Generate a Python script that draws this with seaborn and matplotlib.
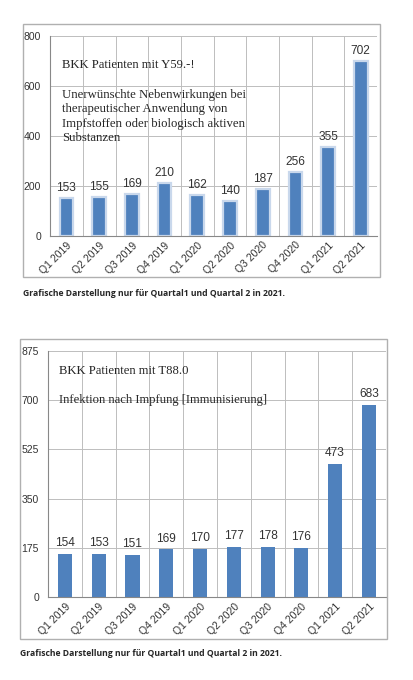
import matplotlib
matplotlib.use("Agg")
import matplotlib.pyplot as plt
import seaborn as sns
import pandas as pd
from matplotlib.patches import Rectangle
from matplotlib.ticker import FixedLocator

sns.set_style("white")
plt.rcParams['font.family'] = ['Liberation Sans', 'DejaVu Sans']

# data
quarters = ["Q1 2019", "Q2 2019", "Q3 2019", "Q4 2019", "Q1 2020",
            "Q2 2020", "Q3 2020", "Q4 2020", "Q1 2021", "Q2 2021"]
y59_values = [153, 155, 169, 210, 162, 140, 187, 256, 355, 702]
t88_values = [154, 153, 151, 169, 170, 177, 178, 176, 473, 683]
y59_ticks = [0, 200, 400, 600, 800]
t88_ticks = [0, 175, 350, 525, 700, 875]
caption = "Grafische Darstellung nur für Quartal1 und Quartal 2 in 2021."

bar_color = "#4f81bd"
grid_color = "#bdbdbd"

fig = plt.figure(figsize=(4.14, 6.8), dpi=100)
fig.patch.set_facecolor("white")


def draw_chart(ax, values, ticks, glow):
    df = pd.DataFrame({"quarter": quarters, "value": values})
    sns.barplot(data=df, x="quarter", y="value", ax=ax, color=bar_color,
                width=0.42, saturation=1,
                edgecolor="#c9d8ec" if glow else bar_color,
                linewidth=1.6 if glow else 0)
    ax.set_xlim(-0.5, len(quarters) - 0.5)
    ax.set_ylim(ticks[0], ticks[-1])
    ax.set_yticks(ticks)
    ax.set_xlabel("")
    ax.set_ylabel("")
    ax.xaxis.set_minor_locator(FixedLocator([i - 0.5 for i in range(len(quarters) + 1)]))
    ax.grid(which="minor", axis="x", color=grid_color, linewidth=0.7)
    ax.grid(which="major", axis="y", color=grid_color, linewidth=0.7)
    ax.set_axisbelow(True)
    ax.tick_params(axis="x", which="major", length=0, labelsize=7.5, pad=3,
                   labelrotation=45, colors="#333333")
    ax.tick_params(axis="x", which="minor", length=3, color="#888888")
    ax.tick_params(axis="y", length=3, labelsize=7.5, color="#888888",
                   colors="#333333")
    for lab in ax.get_xticklabels():
        lab.set_ha("right")
        lab.set_rotation_mode("anchor")
    for s in ["top", "right"]:
        ax.spines[s].set_visible(False)
    for s in ["left", "bottom"]:
        ax.spines[s].set_color("#888888")
        ax.spines[s].set_linewidth(0.8)
    for i, v in enumerate(values):
        ax.text(i, v + ticks[-1] * 0.02, str(v), ha="center", va="bottom",
                fontsize=8.6, color="#333333")


# top chart
fig.patches.append(Rectangle((0.0556, 0.5926), 0.862, 0.372, transform=fig.transFigure,
                             fill=False, edgecolor="#b0b0b0", linewidth=1))
ax1 = fig.add_axes([0.121, 0.653, 0.790, 0.294])
draw_chart(ax1, y59_values, y59_ticks, glow=True)
fig.text(62 / 414, 1 - 65 / 680, "BKK Patienten mit Y59.-!", family="Liberation Serif",
         fontsize=9.1, va="center", ha="left")
fig.text(62 / 414, 1 - 89 / 680,
         "Unerwünschte Nebenwirkungen bei\ntherapeutischer Anwendung von\n"
         "Impfstoffen oder biologisch aktiven\nSubstanzen",
         family="Liberation Serif", fontsize=9.2, va="top", ha="left", linespacing=1.26)
fig.text(23 / 414, 1 - 294 / 680, caption, fontsize=6.2, fontweight="bold",
         va="center", ha="left", family=["Open Sans", "DejaVu Sans"])

# bottom chart
fig.patches.append(Rectangle((0.048, 0.060), 0.886, 0.441, transform=fig.transFigure,
                             fill=False, edgecolor="#b0b0b0", linewidth=1))
ax2 = fig.add_axes([0.116, 0.122, 0.816, 0.362])
draw_chart(ax2, t88_values, t88_ticks, glow=False)
fig.text(59 / 414, 1 - 371 / 680, "BKK Patienten mit T88.0", family="Liberation Serif",
         fontsize=9.1, va="center", ha="left")
fig.text(59 / 414, 1 - 400 / 680, "Infektion nach Impfung [Immunisierung]",
         family="Liberation Serif", fontsize=9.1, va="center", ha="left")
fig.text(20 / 414, 1 - 654 / 680, caption, fontsize=6.2, fontweight="bold",
         va="center", ha="left", family=["Open Sans", "DejaVu Sans"])

fig.savefig("out.png", dpi=100)
